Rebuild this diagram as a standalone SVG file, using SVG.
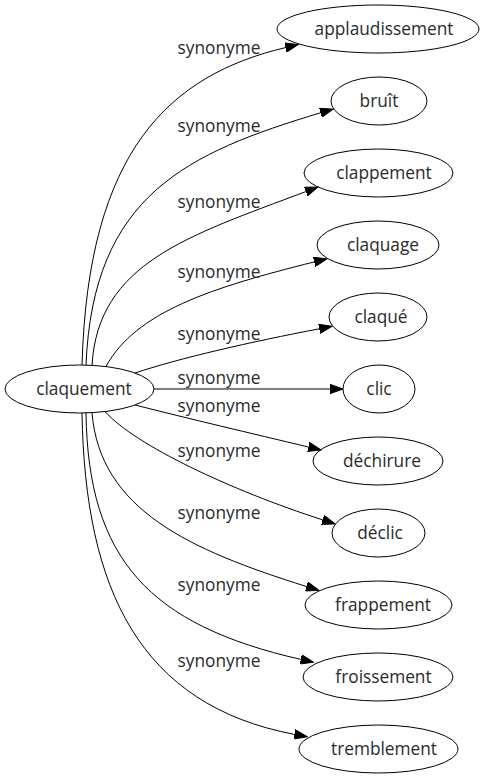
<svg xmlns="http://www.w3.org/2000/svg" width="485" height="779" viewBox="0 0 485 779">
<defs>
<style>
.node ellipse{fill:none;stroke:#000;stroke-width:1}
.node text,.lbl{font-family:"Open Sans","DejaVu Sans","Liberation Sans",sans-serif;font-size:17.3px;fill:#2a2a2a;text-anchor:middle}
.edge{fill:none;stroke:#000;stroke-width:1;marker-end:url(#arr)}
</style>
<marker id="arr" markerUnits="userSpaceOnUse" markerWidth="14" markerHeight="10" viewBox="0 0 14 10" refX="0" refY="5" orient="auto">
<path d="M0,0.3 L13,5 L0,9.7 z" fill="#000" stroke="#000" stroke-width="1"/>
</marker>
</defs>
<rect width="485" height="779" fill="#fff"/>
<g id="edges">
<path class="edge" d="M82,365 C88,150 170,75 285.5,47.6"/>
<path class="edge" d="M86,365 C93,195 187,153 320.6,112.8"/>
<path class="edge" d="M92,365.3 C98,263 188,236 305.8,191.6"/>
<path class="edge" d="M106,366.4 C136,312 210,288 314.3,261.9"/>
<path class="edge" d="M135,373 C180,358 250,342 319.3,328.8"/>
<path class="edge" d="M154,389 L330,389"/>
<path class="edge" d="M135,405 C190,419 250,433 308.4,447"/>
<path class="edge" d="M105,411.6 C135,445 230,490 322.7,519.9"/>
<path class="edge" d="M92,412.7 C100,510 190,550 306.5,586.5"/>
<path class="edge" d="M86,412.9 C88,560 150,625 300.8,659.4"/>
<path class="edge" d="M82,413 C85,590 140,705 294.5,734.4"/>
<text class="lbl" x="219" y="54">synonyme</text>
<text class="lbl" x="219" y="132">synonyme</text>
<text class="lbl" x="219" y="208">synonyme</text>
<text class="lbl" x="219" y="278">synonyme</text>
<text class="lbl" x="219" y="340">synonyme</text>
<text class="lbl" x="219" y="384">synonyme</text>
<text class="lbl" x="219" y="412">synonyme</text>
<text class="lbl" x="219" y="457">synonyme</text>
<text class="lbl" x="219" y="519">synonyme</text>
<text class="lbl" x="219" y="591">synonyme</text>
<text class="lbl" x="219" y="667">synonyme</text>
</g>
<g id="n0" class="node"><ellipse cx="79.5" cy="389" rx="74.5" ry="24"/><text x="84" y="394.5">claquement</text></g>
<g id="n1" class="node"><ellipse cx="378" cy="29" rx="101" ry="24"/><text x="384" y="34.5">applaudissement</text></g>
<g id="n2" class="node"><ellipse cx="379" cy="101" rx="48" ry="24"/><text x="379" y="106.5">bruît</text></g>
<g id="n3" class="node"><ellipse cx="378.5" cy="173" rx="74.5" ry="24"/><text x="384" y="178.5">clappement</text></g>
<g id="n4" class="node"><ellipse cx="378" cy="245" rx="61" ry="24"/><text x="383" y="250.5">claquage</text></g>
<g id="n5" class="node"><ellipse cx="378" cy="317" rx="49" ry="24"/><text x="381" y="322.5">claqué</text></g>
<g id="n6" class="node"><ellipse cx="379" cy="389" rx="36" ry="24"/><text x="379" y="394.5">clic</text></g>
<g id="n7" class="node"><ellipse cx="378" cy="461" rx="65" ry="24"/><text x="382" y="466.5">déchirure</text></g>
<g id="n8" class="node"><ellipse cx="378.5" cy="533" rx="46.5" ry="24"/><text x="380" y="538.5">déclic</text></g>
<g id="n9" class="node"><ellipse cx="378.5" cy="605" rx="73.5" ry="24"/><text x="383" y="610.5">frappement</text></g>
<g id="n10" class="node"><ellipse cx="378" cy="677" rx="75" ry="24"/><text x="383.5" y="682.5">froissement</text></g>
<g id="n11" class="node"><ellipse cx="378.5" cy="749" rx="79.5" ry="24"/><text x="384" y="754.5">tremblement</text></g>
</svg>
